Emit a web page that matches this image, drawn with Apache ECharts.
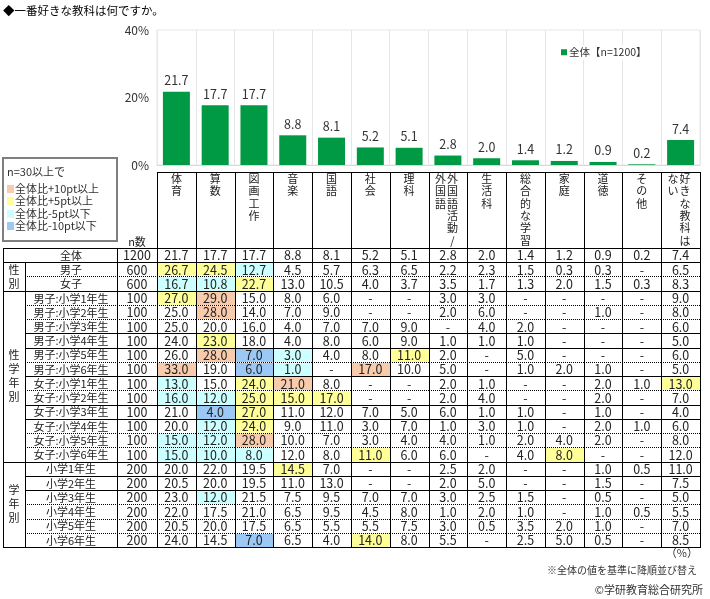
<!DOCTYPE html>
<html lang="ja">
<head>
<meta charset="UTF-8">
<title>一番好きな教科</title>
<script src="https://cdn.jsdelivr.net/npm/echarts@6/dist/echarts.min.js"></script>
<style>html,body{margin:0;padding:0;background:#fff;}</style>
</head>
<body>
<div id="main" style="width:710px;height:599px;"></div>
<script>
const chart = echarts.init(document.getElementById('main'));

// column heads; a second string is the next vertical column (read right to left)
const subjects = ['体育', '算数', '図画工作', '音楽', '国語', '社会', '理科', '外国語活動/外国語',
    '生活科', '総合的な学習', '家庭', '道徳', 'その他', '好きな教科はない'];
const headerColumns = [['体育'], ['算数'], ['図画工作'], ['音楽'], ['国語'], ['社会'], ['理科'],
    ['外国語活動/', '外国語'], ['生活科'], ['総合的な学習'], ['家庭'], ['道徳'], ['その他'], ['好きな教科は', 'ない']];

const rowLabels = ['全体', '男子', '女子',
    '男子:小学1年生', '男子:小学2年生', '男子:小学3年生', '男子:小学4年生', '男子:小学5年生', '男子:小学6年生',
    '女子:小学1年生', '女子:小学2年生', '女子:小学3年生', '女子:小学4年生', '女子:小学5年生', '女子:小学6年生',
    '小学1年生', '小学2年生', '小学3年生', '小学4年生', '小学5年生', '小学6年生'];
const rowN = [1200, 600, 600, 100, 100, 100, 100, 100, 100, 100, 100, 100, 100, 100, 100,
    200, 200, 200, 200, 200, 200];

const groupNames = ['', '性別', '性学年別', '学年別'];
const groupSizes = [1, 2, 12, 6];

// null = "-"
const overall = [21.7, 17.7, 17.7, 8.8, 8.1, 5.2, 5.1, 2.8, 2.0, 1.4, 1.2, 0.9, 0.2, 7.4];
const bySex = [
    [26.7, 24.5, 12.7, 4.5, 5.7, 6.3, 6.5, 2.2, 2.3, 1.5, 0.3, 0.3, null, 6.5],
    [16.7, 10.8, 22.7, 13.0, 10.5, 4.0, 3.7, 3.5, 1.7, 1.3, 2.0, 1.5, 0.3, 8.3]
];
const bySexGrade = [
    [27.0, 29.0, 15.0, 8.0, 6.0, null, null, 3.0, 3.0, null, null, null, null, 9.0],
    [25.0, 28.0, 14.0, 7.0, 9.0, null, null, 2.0, 6.0, null, null, 1.0, null, 8.0],
    [25.0, 20.0, 16.0, 4.0, 7.0, 7.0, 9.0, null, 4.0, 2.0, null, null, null, 6.0],
    [24.0, 23.0, 18.0, 4.0, 8.0, 6.0, 9.0, 1.0, 1.0, 1.0, null, null, null, 5.0],
    [26.0, 28.0, 7.0, 3.0, 4.0, 8.0, 11.0, 2.0, null, 5.0, null, null, null, 6.0],
    [33.0, 19.0, 6.0, 1.0, null, 17.0, 10.0, 5.0, null, 1.0, 2.0, 1.0, null, 5.0],
    [13.0, 15.0, 24.0, 21.0, 8.0, null, null, 2.0, 1.0, null, null, 2.0, 1.0, 13.0],
    [16.0, 12.0, 25.0, 15.0, 17.0, null, null, 2.0, 4.0, null, null, 2.0, null, 7.0],
    [21.0, 4.0, 27.0, 11.0, 12.0, 7.0, 5.0, 6.0, 1.0, 1.0, null, 1.0, null, 4.0],
    [20.0, 12.0, 24.0, 9.0, 11.0, 3.0, 7.0, 1.0, 3.0, 1.0, null, 2.0, 1.0, 6.0],
    [15.0, 12.0, 28.0, 10.0, 7.0, 3.0, 4.0, 4.0, 1.0, 2.0, 4.0, 2.0, null, 8.0],
    [15.0, 10.0, 8.0, 12.0, 8.0, 11.0, 6.0, 6.0, null, 4.0, 8.0, null, null, 12.0]
];
const byGrade = [
    [20.0, 22.0, 19.5, 14.5, 7.0, null, null, 2.5, 2.0, null, null, 1.0, 0.5, 11.0],
    [20.5, 20.0, 19.5, 11.0, 13.0, null, null, 2.0, 5.0, null, null, 1.5, null, 7.5],
    [23.0, 12.0, 21.5, 7.5, 9.5, 7.0, 7.0, 3.0, 2.5, 1.5, null, 0.5, null, 5.0],
    [22.0, 17.5, 21.0, 6.5, 9.5, 4.5, 8.0, 1.0, 2.0, 1.0, null, 1.0, 0.5, 5.5],
    [20.5, 20.0, 17.5, 6.5, 5.5, 5.5, 7.5, 3.0, 0.5, 3.5, 2.0, 1.0, null, 7.0],
    [24.0, 14.5, 7.0, 6.5, 4.0, 14.0, 8.0, 5.5, null, 2.5, 5.0, 0.5, null, 8.5]
];

// rows whose bottom rule is solid (others dotted)
const solidAfter = [0, 2, 5, 6, 8, 10, 11, 14, 15, 16, 20];

const FONT = '"Noto Sans CJK JP", "Noto Sans", sans-serif';
const INK = '#222';
const ORANGE = '#f8cbad', YELLOW = '#ffff99', CYAN = '#ccffff', BLUE = '#9cc8f5';

const allRows = [overall].concat(bySex, bySexGrade, byGrade);

function shade(v, base, n) {
    if (v === null || n < 30) return null;
    const d = Math.round((v - base) * 10) / 10;
    if (d >= 10) return ORANGE;
    if (d >= 5) return YELLOW;
    if (d <= -10) return BLUE;
    if (d <= -5) return CYAN;
    return null;
}

const tableData = [];
const tableCells = [];
allRows.forEach(function (row, r) {
    row.forEach(function (v, c) {
        tableData.push([c, r]);
        tableCells.push({
            text: v === null ? '-' : v.toFixed(1),
            fill: r === 0 ? null : shade(v, overall[c], rowN[r])
        });
    });
});

const groupData = [];
let start = 0;
groupSizes.forEach(function (s) {
    groupData.push([0, start, start + s - 1]);
    start += s;
});

function cellBox(api, x, y) {
    const c = api.coord([x, y]);
    const s = api.size([1, 1]);
    return { x: c[0] - s[0] / 2, y: c[1] - s[1] / 2, w: s[0], h: s[1] };
}
function vline(x, y1, y2) {
    const X = Math.round(x) + 0.5;
    return { type: 'line', shape: { x1: X, y1: Math.round(y1), x2: X, y2: Math.round(y2) + 1 },
        style: { stroke: '#000', lineWidth: 1 } };
}
function hline(x1, x2, y, solid) {
    const Y = Math.round(y) + 0.5;
    return { type: 'line', shape: { x1: Math.round(x1), y1: Y, x2: Math.round(x2) + 1, y2: Y },
        style: { stroke: '#000', lineWidth: 1, lineDash: solid ? 'solid' : [1, 1] } };
}
function label(text, x, y, opt) {
    return { type: 'text', style: Object.assign({ text: text, x: x, y: y, align: 'center',
        verticalAlign: 'middle', fill: INK, fontSize: 12.5, fontFamily: FONT }, opt || {}) };
}
function vertical(s) { return s.split('').join('\n'); }

function legendLine(text, y) {
    return { type: 'text', style: { text: text, x: 12, y: y, verticalAlign: 'middle', fill: '#333',
        fontSize: 11, fontFamily: FONT } };
}

const rowAxis = { type: 'category', data: rowLabels, inverse: true, show: false };

const option = {
    animation: false,
    backgroundColor: '#fff',
    title: [
        { text: '◆一番好きな教科は何ですか。', left: 3, top: 5, padding: 0,
            textStyle: { fontSize: 11.5, fontWeight: 'normal', color: '#000', fontFamily: FONT } },
        { text: '（%）', right: 12, top: 547, padding: 0,
            textStyle: { fontSize: 11, fontWeight: 'normal', color: '#333', fontFamily: FONT } },
        { text: '※全体の値を基準に降順並び替え', right: 13, top: 565, padding: 0,
            textStyle: { fontSize: 10, fontWeight: 'normal', color: '#333', fontFamily: FONT } },
        { text: '©学研教育総合研究所', right: 7, top: 584, padding: 0,
            textStyle: { fontSize: 11, fontWeight: 'normal', color: '#333', fontFamily: FONT } }
    ],
    legend: {
        data: ['全体【n=1200】'], left: 558, top: 45, icon: 'rect', itemWidth: 6, itemHeight: 6,
        padding: [2, 3], backgroundColor: '#fff',
        textStyle: { fontSize: 10.5, color: '#333', fontFamily: FONT, padding: [0, 0, 0, -3] }
    },
    graphic: [{
        type: 'group', left: 2, top: 157,
        children: [
            { type: 'rect', shape: { x: 0, y: 0, width: 114, height: 83 },
                style: { fill: '#fff', stroke: '#7f7f7f', lineWidth: 2 } },
            { type: 'text', style: { text: 'n=30以上で', x: 4, y: 14, verticalAlign: 'middle', fill: '#333', fontSize: 11, fontFamily: FONT } },
            { type: 'rect', shape: { x: 4, y: 27, width: 7, height: 8 }, style: { fill: ORANGE } },
            legendLine('全体比+10pt以上', 31),
            { type: 'rect', shape: { x: 4, y: 39, width: 7, height: 8 }, style: { fill: YELLOW } },
            legendLine('全体比+5pt以上', 43),
            { type: 'rect', shape: { x: 4, y: 52, width: 7, height: 8 }, style: { fill: CYAN } },
            legendLine('全体比-5pt以下', 56),
            { type: 'rect', shape: { x: 4, y: 64, width: 7, height: 8 }, style: { fill: BLUE } },
            legendLine('全体比-10pt以下', 68)
        ]
    }],
    grid: [
        { left: 157, right: 10, top: 30, height: 135, show: true, borderColor: '#e6e6e6', borderWidth: 1 },
        { left: 157, right: 10, top: 172, height: 76 },
        { left: 157, right: 10, top: 248, bottom: 52 },
        { left: 117, width: 40, top: 248, bottom: 52 },
        { left: 25, width: 92, top: 248, bottom: 52 },
        { left: 3, width: 22, top: 248, bottom: 52 }
    ],
    xAxis: [
        { gridIndex: 0, type: 'category', data: subjects,
            axisLine: { lineStyle: { color: '#d9d9d9' } }, axisTick: { show: false }, axisLabel: { show: false },
            splitLine: { show: true, interval: 0, lineStyle: { color: '#e6e6e6' } } },
        { gridIndex: 1, type: 'category', data: subjects, show: false },
        { gridIndex: 2, type: 'category', data: subjects, show: false },
        { gridIndex: 3, type: 'category', data: ['n'], show: false },
        { gridIndex: 4, type: 'category', data: ['label'], show: false },
        { gridIndex: 5, type: 'category', data: ['group'], show: false }
    ],
    yAxis: [
        { gridIndex: 0, type: 'value', min: 0, max: 40, interval: 20,
            axisLine: { show: false }, axisTick: { show: false }, splitLine: { show: false },
            axisLabel: { formatter: '{value}%', fontSize: 12, color: '#333', margin: 8, fontFamily: FONT } },
        { gridIndex: 1, type: 'category', data: ['head'], show: false },
        Object.assign({ gridIndex: 2 }, rowAxis),
        Object.assign({ gridIndex: 3 }, rowAxis),
        Object.assign({ gridIndex: 4 }, rowAxis),
        Object.assign({ gridIndex: 5 }, rowAxis)
    ],
    series: [
        {
            name: '全体【n=1200】', type: 'bar', xAxisIndex: 0, yAxisIndex: 0,
            data: overall, barWidth: 27,
            itemStyle: { color: '#009944' },
            label: { show: true, position: 'top', distance: 5, fontSize: 12.5, color: '#333', fontFamily: FONT,
                formatter: function (p) { return p.value.toFixed(1); } }
        },
        {
            type: 'custom', xAxisIndex: 1, yAxisIndex: 1, silent: true,
            data: subjects.map(function (_, i) { return [i, 0]; }),
            encode: { x: 0, y: 1 },
            renderItem: function (params, api) {
                const i = api.value(0);
                const b = cellBox(api, i, 0);
                const cx = b.x + b.w / 2;
                const children = [vline(b.x, b.y, b.y + b.h), hline(b.x, b.x + b.w, b.y, true)];
                if (i === subjects.length - 1) children.push(vline(b.x + b.w, b.y, b.y + b.h));
                const cols = headerColumns[i];
                const offsets = cols.length === 1 ? [0] : [4.5, -7.5];
                cols.forEach(function (t, k) {
                    children.push(label(vertical(t), cx + offsets[k], b.y + 0.5,
                        { verticalAlign: 'top', fontSize: 11, lineHeight: 12.4 }));
                });
                return { type: 'group', children: children };
            }
        },
        {
            type: 'custom', xAxisIndex: 2, yAxisIndex: 2, silent: true,
            data: tableData, encode: { x: 0, y: 1 },
            renderItem: function (params, api) {
                const c = api.value(0), r = api.value(1);
                const b = cellBox(api, c, r);
                const info = tableCells[params.dataIndex];
                const children = [];
                if (info.fill) {
                    const x0 = Math.round(b.x) + 1, y0 = Math.round(b.y) + 1;
                    children.push({ type: 'rect',
                        shape: { x: x0, y: y0, width: Math.round(b.x + b.w) - x0, height: Math.round(b.y + b.h) - y0 },
                        style: { fill: info.fill } });
                }
                children.push(vline(b.x, b.y, b.y + b.h));
                if (c === subjects.length - 1) children.push(vline(b.x + b.w, b.y, b.y + b.h));
                if (r === 0) children.push(hline(b.x, b.x + b.w, b.y, true));
                children.push(hline(b.x, b.x + b.w, b.y + b.h, solidAfter.indexOf(r) >= 0));
                children.push(label(info.text, b.x + b.w / 2, b.y + b.h / 2 + 0.5));
                return { type: 'group', children: children };
            }
        },
        {
            type: 'custom', xAxisIndex: 3, yAxisIndex: 3, silent: true,
            data: rowN.map(function (_, r) { return [0, r]; }), encode: { x: 0, y: 1 },
            renderItem: function (params, api) {
                const r = api.value(1);
                const b = cellBox(api, 0, r);
                const children = [vline(b.x, b.y, b.y + b.h),
                    hline(b.x, b.x + b.w, b.y + b.h, solidAfter.indexOf(r) >= 0),
                    label(String(rowN[r]), b.x + b.w / 2, b.y + b.h / 2 + 0.5)];
                if (r === 0) {
                    children.push(hline(b.x, b.x + b.w, b.y, true));
                    children.push(label('n数', b.x + b.w / 2, b.y - 6, { fontSize: 11 }));
                }
                return { type: 'group', children: children };
            }
        },
        {
            type: 'custom', xAxisIndex: 4, yAxisIndex: 4, silent: true,
            data: rowLabels.map(function (_, r) { return [0, r]; }), encode: { x: 0, y: 1 },
            renderItem: function (params, api) {
                const r = api.value(1);
                const b = cellBox(api, 0, r);
                const children = [hline(b.x, b.x + b.w, b.y + b.h, solidAfter.indexOf(r) >= 0),
                    label(rowLabels[r], b.x + b.w / 2, b.y + b.h / 2 + 0.5, { fontSize: 11 })];
                if (r === 0) children.push(hline(b.x, b.x + b.w, b.y, true));
                else children.push(vline(b.x, b.y, b.y + b.h));
                return { type: 'group', children: children };
            }
        },
        {
            type: 'custom', xAxisIndex: 5, yAxisIndex: 5, silent: true,
            data: groupData, dimensions: ['x', 'from', 'to'], encode: { x: 0, y: 1 },
            renderItem: function (params, api) {
                const from = api.value(1), to = api.value(2);
                const a = cellBox(api, 0, from), z = cellBox(api, 0, to);
                const top = a.y, bottom = z.y + z.h, left = a.x, right = a.x + a.w;
                const children = [vline(left, top, bottom), hline(left, right, bottom, true)];
                if (from === 0) children.push(hline(left, right, top, true));
                const name = groupNames[params.dataIndex];
                if (name) children.push(label(vertical(name), (left + right) / 2, (top + bottom) / 2,
                    { fontSize: 11, lineHeight: 14 }));
                return { type: 'group', children: children };
            }
        }
    ]
};

chart.setOption(option);
</script>
</body>
</html>
